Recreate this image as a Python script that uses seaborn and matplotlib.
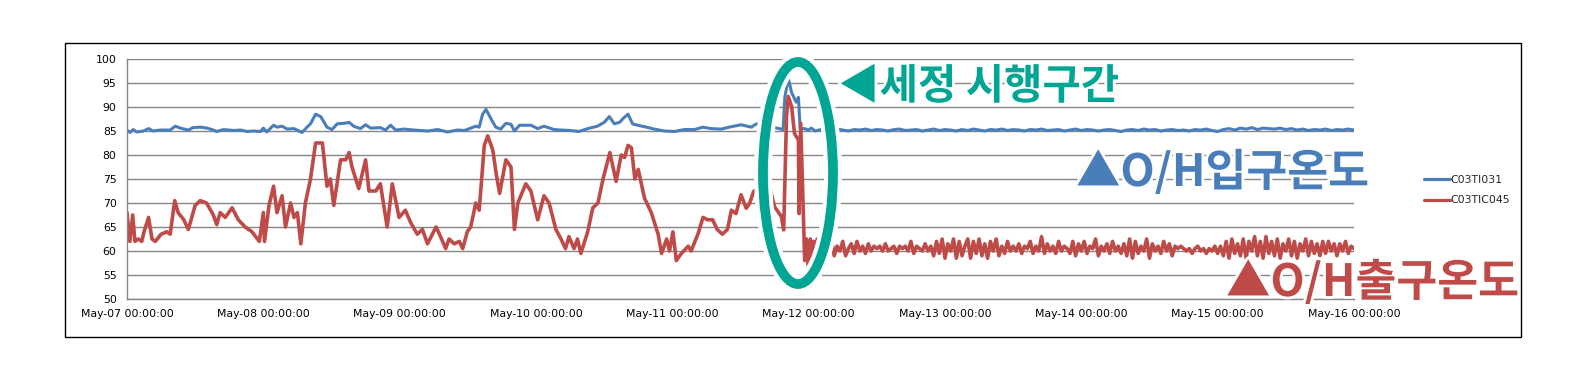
import pandas as pd
import matplotlib
matplotlib.use('Agg')
import matplotlib.pyplot as plt
import matplotlib.dates as mdates
import matplotlib.patheffects as pe
from matplotlib.patches import Ellipse, Rectangle
from matplotlib.lines import Line2D
import seaborn as sns

# hours after May-07 00:00 and readings
red_hours = [0, 0.5, 1, 1.4, 2, 2.6, 3, 3.8, 4.4, 5, 6, 7, 7.6, 8.4, 9, 10, 10.8, 12, 12.9, 14,
             15.2, 15.8, 16.4, 17.3, 18.5, 19.6, 20.8, 22, 23.3, 24, 24.2, 25, 25.8, 26.4, 27.3,
             27.9, 28.8, 29.4, 30, 30.6, 31.4, 32.3, 33.2, 34.4, 35.2, 35.8, 36.4, 37.6, 38.5,
             39.1, 39.6, 40.8, 42, 42.6, 43.8, 44.6, 45.8, 46.7, 47.9, 49, 49.9, 51.1, 52, 52.9,
             54.4, 55.2, 56.1, 56.7, 57.6, 58.5, 59.1, 59.9, 60.5, 61.4, 62, 62.9, 63.5, 64.4, 65,
             65.6, 66.7, 67.6, 68.2, 68.8, 70.2, 71.1, 72.3, 73.4, 74.3, 75.5, 76.4, 77.2, 77.8,
             78.7, 79.3, 79.9, 81.1, 82, 82.9, 83.8, 85, 86.1, 87, 87.6, 88.2, 88.8, 89.4, 90,
             91.1, 92.3, 93.5, 94.1, 95, 95.5, 96.1, 96.7, 97.6, 98.8, 99.3, 100.5, 101.4, 102.2,
             103.1, 103.9, 104.8, 105.7, 106.4, 107.2, 108.1, 109, 109.6, 110.3, 111.7, 113.1,
             114, 115.2, 115.6, 116.1, 116.4, 117, 117.5, 118.2, 118.3, 118.6, 119.3, 119.6,
             119.9, 120.3, 120.6, 120.9, 121.2, 121.5] + [122 + 0.5 * i for i in range(189)]
red_vals = [68, 62, 67.5, 62, 62.5, 62, 64, 67, 62.5, 62, 63.5, 64, 63.5, 70.5, 68, 66.5, 64.5,
            69.5, 70.5, 70, 67.5, 65.5, 68, 67, 69, 66.5, 65, 64, 62, 68, 62, 69.5, 73.5, 68,
            71.5, 65, 70, 67, 68, 61.5, 70, 75, 82.5, 82.5, 73.5, 75, 69.5, 79, 79, 80.5, 77.5,
            73, 79, 72.5, 72.5, 74, 65, 74, 67, 68.5, 66, 63.5, 64.5, 61.5, 65, 63, 60.5, 62.5,
            61.5, 62, 60.5, 64, 65, 70, 68.5, 82, 84, 81, 76, 72, 79, 77.5, 64.5, 70, 74, 72.5,
            66.5, 71.5, 70, 64.5, 62.5, 60.5, 63, 60.5, 62.5, 59.5, 64, 69, 70, 75, 80.5, 74.5,
            80, 79.5, 82, 81.5, 75, 77, 71, 68, 63.5, 59.5, 62.5, 60, 64, 58, 59.5, 61, 60, 63.5,
            67, 66.5, 66.5, 64.5, 63.5, 64.5, 68.5, 67.8, 71.7, 68.9, 69.9, 72.4, 73.5, 73.4,
            69.2, 67.2, 64.4, 88, 92.2, 90.1, 84.5, 83.1, 67.8, 86.6, 58, 62.5, 57, 62.5, 57.5,
            62, 58.5, 62.5,
            # half-hourly after the cleaning
            62, 58.5, 61.5, 59.5, 62.5, 59, 61, 60, 62, 59, 60.5, 61.5, 59.5, 62, 60, 61, 59.5, 61.5, 60, 61,
            60.5, 61, 60, 61.5, 60, 60.5, 61, 59.5, 61, 60.5, 61, 60, 62, 59.5, 61, 60.5, 60, 61.5, 60, 61,
            59, 62, 59.5, 62.5, 58.5, 61.5, 60, 62.5, 58.5, 62, 59, 61, 62.5, 58.5, 62, 59.5, 62.5, 59,
            61.5, 58.5, 62, 60, 62.5, 59, 61, 59.5, 62, 60,
            61, 60, 61.5, 59.5, 61, 60.5, 62, 59.5, 61, 60, 63, 59.5, 61.5, 60, 61, 59.5, 62, 60, 61, 60.5,
            59.5, 62, 59, 61.5, 60, 62, 59.5, 61, 60.5, 62.5, 59, 61, 60, 61.5, 59.5, 62, 60, 61, 59.5, 61.5,
            59, 62.5, 58.5, 62, 59.5, 61, 60, 62.5, 58.5, 61.5, 60, 61, 59.5, 62, 60, 61.5, 59, 61, 60.5, 61,
            60.5, 60, 60.5, 59.5, 60.5, 61, 60, 60.5, 59.5, 60.5, 60, 61, 59.5, 61,
            59, 62, 58.5, 62.5, 59.5, 61.5, 59, 62.5, 58.5, 62, 60, 63, 59, 62, 58.5, 63, 59.5, 62,
            59, 62.5, 58.5, 61.5, 60, 62.5, 59, 62, 58.5, 61.5, 60, 62.5, 59, 62, 59.5, 61.5, 59, 62,
            59.5, 62, 60, 61.5, 59, 61.5, 60, 62, 59.5, 61, 60.5]

blue_hours = [0, 0.5, 1.1, 1.7, 2.9, 3.8, 4.6, 5.8, 7, 7.6, 8.5, 9.4, 10.8, 11.6, 12.9, 14.1,
              15.2, 15.8, 17, 18.8, 20, 21.1, 22.3, 23.5, 24, 24.6, 25.8, 26.4, 27.3, 28.2, 29.4,
              30.8, 31.7, 32.3, 33.2, 34.1, 35.2, 36.1, 37, 38.2, 39.1, 39.9, 41.1, 42, 42.9,
              44.6, 45.5, 46.4, 47.3, 48.8, 50.5, 52.9, 54.7, 56.4, 58.2, 59.4, 60.5, 61.4, 62,
              62.6, 63.2, 64.1, 64.9, 65.8, 66.7, 67.6, 68.2, 69.1, 71.1, 72.3, 73.4, 75.2, 76.4,
              78.1, 79.6, 81.1, 82.8, 84, 84.9, 85.8, 86.7, 87.5, 88.2, 89, 89.9, 91.1, 92.8,
              94.6, 96.4, 98.1, 99.9, 101.4, 102.8, 104.6, 106, 108.1, 109.9, 110.8, 112.5,
              113.7, 115.5, 115.8, 116.4, 117, 117.8, 118.2, 118.5, 119.3, 119.9, 120.5, 121.1,
              122.2] + list(range(123, 217))
blue_vals = [85.2, 84.7, 85.3, 84.8, 85, 85.5, 85, 85.2, 85.2, 85.2, 86, 85.6, 85.2, 85.7, 85.8,
             85.6, 85.2, 84.9, 85.3, 85.1, 85.2, 84.9, 85, 84.9, 85.6, 84.8, 86.2, 85.8, 86,
             85.4, 85.5, 84.7, 85.8, 86.5, 88.5, 88, 85.8, 85.3, 86.5, 86.6, 86.8, 86, 85.5,
             86.3, 85.6, 85.7, 85.2, 86.2, 85.2, 85.4, 85.2, 85, 85.3, 84.8, 85.2, 85.1, 85.6,
             86, 85.8, 88.5, 89.5, 87.5, 85.8, 85.4, 86.6, 86.4, 85, 86.2, 86.2, 85.5, 86, 85.3,
             85.2, 85.1, 84.9, 85.5, 86, 86.8, 88, 86.5, 86.8, 87.8, 88.5, 86.5, 86.2, 85.9,
             85.4, 85, 84.9, 85.3, 85.3, 85.8, 85.5, 85.4, 85.8, 86.3, 85.8, 86.5, 86, 85.8,
             85.3, 92, 96, 93, 91, 92, 85.5, 85.5, 85.2, 85.6, 85, 85.3,
             85.3, 85.1, 85.4, 85.2, 85.0, 85.3, 85.2, 85.4, 85.1, 85.3,
             85.2, 85.0, 85.3, 85.4, 85.1, 85.2, 85.3, 85.0, 85.2, 85.4,
             85.1, 85.3, 85.2, 85.0, 85.3, 85.1, 85.4, 85.2, 85.0, 85.3,
             85.2, 85.4, 85.1, 85.3, 85.2, 85.0, 85.3, 85.2, 85.4, 85.1,
             85.2, 85.3, 85.0, 85.2, 85.4, 85.1, 85.3, 85.2, 85.0, 85.2,
             85.3, 85.1, 84.9, 85.2, 85.3, 85.1, 85.4, 85.2, 85.3, 85.0,
             85.2, 85.3, 85.1, 85.2, 85.0, 85.3, 85.2, 85.4, 85.1, 84.9,
             85.3, 85.5, 85.2, 85.6, 85.4, 85.7, 85.3, 85.6, 85.5, 85.4,
             85.6, 85.3, 85.5, 85.2, 85.4, 85.1, 85.3, 85.2, 85.4, 85.1,
             85.3, 85.2, 85.4, 85.2]

series_names = ['C03TI031', 'C03TIC045']
series_colors = ['#4A7EBB', '#BE4B48']
start = pd.Timestamp('2013-05-07')
y_ticks = list(range(50, 101, 5))

df_blue = pd.DataFrame({'time': start + pd.to_timedelta(blue_hours, unit='h'), 'value': blue_vals})
df_red = pd.DataFrame({'time': start + pd.to_timedelta(red_hours, unit='h'), 'value': red_vals})

sns.set_style('white')
plt.rcParams['font.family'] = ['DejaVu Sans']
kr = ['Noto Sans CJK KR', 'DejaVu Sans']

W, H = 1587, 378
fig = plt.figure(figsize=(W / 100, H / 100), dpi=100)
ax = fig.add_axes([127 / W, 1 - 299 / H, (1354 - 127) / W, (299 - 59) / H])

sns.lineplot(data=df_blue, x='time', y='value', color=series_colors[0],
             estimator=None, sort=False, linewidth=2.2, ax=ax)
sns.lineplot(data=df_red, x='time', y='value', color=series_colors[1],
             estimator=None, sort=False, linewidth=2.6, ax=ax)

ax.set_ylim(50, 100)
ax.set_yticks(y_ticks)
ax.set_xlim(start, start + pd.Timedelta(days=9))
ax.xaxis.set_major_locator(mdates.DayLocator())
ax.xaxis.set_major_formatter(mdates.DateFormatter('%b-%d %H:%M:%S'))
ax.set_xlabel('')
ax.set_ylabel('')
ax.grid(axis='y', color='#868686', linewidth=1)
ax.grid(axis='x', visible=False)
for s in ['top', 'right']:
    ax.spines[s].set_visible(False)
for s in ['left', 'bottom']:
    ax.spines[s].set_color('#868686')
    ax.spines[s].set_linewidth(1)
ax.tick_params(axis='both', labelsize=7.8, colors='#868686', labelcolor='black',
               direction='out', length=4, width=1)
ax.tick_params(axis='x', pad=3)

handles = [Line2D([], [], color=c, linewidth=2.3) for c in series_colors]
fig.legend(handles, series_names, loc='center left', bbox_to_anchor=(1414 / W, 1 - 190 / H),
           frameon=False, fontsize=7.8, handlelength=2.4, handletextpad=0.05, labelspacing=1.0)

# chart border
fig.add_artist(Rectangle((65 / W, 1 - 337 / H), (1521 - 65) / W, (337 - 43) / H,
                         transform=fig.transFigure, fill=False, ec='black', lw=1))

# highlight ellipse with white halo
teal = '#00A693'
for ec, lw in [('white', 13), (teal, 7)]:
    fig.add_artist(Ellipse((798 / W, 1 - 173 / H), 70 / W, 222 / H, transform=fig.transFigure,
                           fill=False, ec=ec, lw=lw))

halo = [pe.withStroke(linewidth=4, foreground='white')]
fig.text(838 / W, 1 - 87 / H, '◀세정 시행구간', color=teal, fontsize=30, fontweight='bold',
         family=kr, ha='left', va='center', path_effects=halo)
fig.text(1076 / W, 1 - 173 / H, '▲O/H입구온도', color='#4A7EBB', fontsize=32, fontweight='bold',
         family=kr, ha='left', va='center', path_effects=halo)
fig.text(1226 / W, 1 - 283 / H, '▲O/H출구온도', color='#BE4B48', fontsize=32, fontweight='bold',
         family=kr, ha='left', va='center', path_effects=halo)

fig.savefig('out.png', dpi=100)
